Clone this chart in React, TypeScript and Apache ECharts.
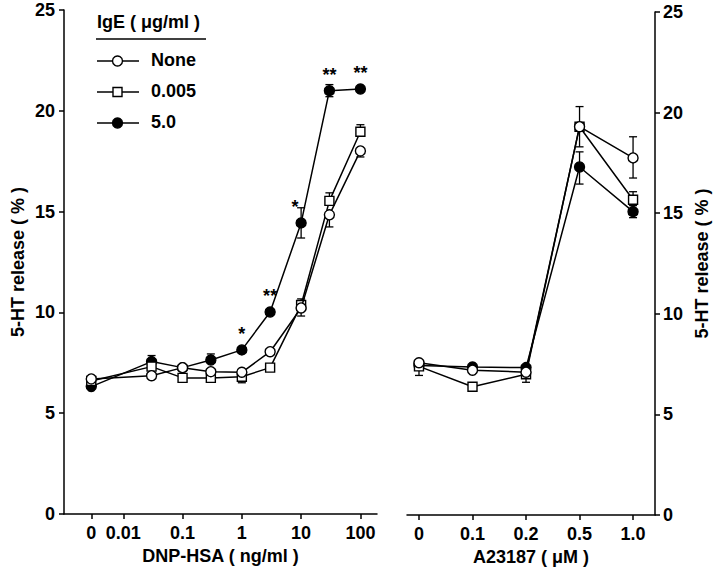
import React, { useEffect, useRef } from "react";
import * as echarts from "echarts";

// ---------- data ----------
const ZERO_POS = -2.54; // log10 position used for the "0" dose
const dnpTickLabels = ["0", "0.01", "0.1", "1", "10", "100"];
const dnpTickValues = [ZERO_POS, -2, -1, 0, 1, 2];
const dnpConc = [0, 0.03, 0.1, 0.3, 1, 3, 10, 30, 100];
const dnpNone = [6.7, 6.86, 7.26, 7.06, 7.03, 8.05, 10.22, 14.84, 18.01];
const dnpLow = [6.6, 7.31, 6.75, 6.75, 6.81, 7.26, 10.37, 15.53, 18.96];
const dnpHigh = [6.32, 7.56, 7.26, 7.64, 8.14, 10.02, 14.44, 21.0, 21.08];
// [down, up]
const dnpNoneErr = [[0, 0], [0, 0], [0, 0], [0, 0], [0, 0], [0, 0], [0.4, 0], [0.6, 0], [0.3, 0]];
const dnpLowErr = [[0, 0], [0, 0], [0, 0], [0, 0], [0.3, 0], [0, 0], [0, 0.3], [0, 0.4], [0, 0.35]];
const dnpHighErr = [[0, 0], [0, 0.3], [0, 0], [0, 0.3], [0, 0], [0, 0], [0.75, 0.75], [0.3, 0.3], [0, 0]];
const dnpSig = ["", "", "", "", "*", "**", "*", "**", "**"];

const a23Labels = ["0", "0.1", "0.2", "0.5", "1.0"];
const a23None = [7.57, 7.2, 7.1, 19.3, 17.75];
const a23Low = [7.39, 6.38, 7.0, 19.3, 15.67];
const a23High = [7.44, 7.36, 7.33, 17.3, 15.08];
const a23NoneErr = [[0, 0], [0, 0], [0, 0], [0, 0], [1.0, 1.05]];
const a23LowErr = [[0.45, 0], [0, 0], [0.4, 0], [1.0, 1.0], [0, 0.4]];
const a23HighErr = [[0, 0], [0, 0], [0, 0], [0.85, 0.75], [0.3, 0.3]];

const FONT = "'Liberation Sans', Arial, Helvetica, sans-serif";

function logPos(c: number) {
  return c === 0 ? ZERO_POS : Math.log10(c);
}

export default function App() {
  const ref = useRef<HTMLDivElement>(null);
  useEffect(() => {
    if (!ref.current) return;
    const chart = echarts.init(ref.current, null, { renderer: "svg" });

    const dnpX = dnpConc.map(logPos);
    const a23X = a23Labels.map((_, i) => i);

    const pts = (xs: number[], ys: number[]) => ys.map((y, i) => [xs[i], y]);
    const errData = (xs: number[], ys: number[], err: number[][]) =>
      ys
        .map((y, i) => [xs[i], y, err[i][0], err[i][1]])
        .filter((d) => d[2] > 0 || d[3] > 0);

    const errSeries = (idx: number, data: number[][]) => ({
      type: "custom",
      xAxisIndex: idx,
      yAxisIndex: idx,
      z: 1,
      silent: true,
      data,
      encode: { x: 0, y: 1 },
      renderItem: (params: any, api: any) => {
        const x = api.value(0);
        const y = api.value(1);
        const d = api.value(2);
        const u = api.value(3);
        const c = api.coord([x, y]);
        const children: any[] = [];
        const cap = 4;
        const st = { stroke: "#000", lineWidth: 1.3 };
        if (d > 0) {
          const p = api.coord([x, y - d]);
          children.push({ type: "line", shape: { x1: c[0], y1: c[1], x2: p[0], y2: p[1] }, style: st });
          children.push({ type: "line", shape: { x1: p[0] - cap, y1: p[1], x2: p[0] + cap, y2: p[1] }, style: st });
        }
        if (u > 0) {
          const p = api.coord([x, y + u]);
          children.push({ type: "line", shape: { x1: c[0], y1: c[1], x2: p[0], y2: p[1] }, style: st });
          children.push({ type: "line", shape: { x1: p[0] - cap, y1: p[1], x2: p[0] + cap, y2: p[1] }, style: st });
        }
        return { type: "group", children };
      },
    });

    const lineSeries = (name: string, idx: number, data: any[], kind: string, z: number, extra: any = {}) => ({
      name,
      type: "line",
      xAxisIndex: idx,
      yAxisIndex: idx,
      data,
      z,
      symbol: kind === "square" ? "rect" : "circle",
      symbolSize: kind === "square" ? 9 : 10,
      showAllSymbol: true,
      lineStyle: { color: "#000", width: 1.5 },
      itemStyle: {
        color: kind === "filled" ? "#000" : "#fff",
        borderColor: "#000",
        borderWidth: 1.4,
      },
      emphasis: { disabled: true },
      ...extra,
    });

    const highLeftData = pts(dnpX, dnpHigh).map((v, i) =>
      i === 6
        ? { value: v, label: { position: "left", offset: [4, -16] } }
        : { value: v }
    );

    const yAxisBase = {
      type: "value",
      min: 0,
      max: 25,
      interval: 5,
      axisLine: { show: true, onZero: false, lineStyle: { color: "#000", width: 1.5 } },
      axisTick: { show: true, length: 5, lineStyle: { color: "#000", width: 1.5 } },
      splitLine: { show: false },
      axisLabel: { color: "#000", fontSize: 18, fontWeight: "bold", fontFamily: FONT, margin: 9 },
      name: "5-HT release ( % )",
      nameLocation: "middle",
      nameRotate: 90,
      nameTextStyle: { color: "#000", fontSize: 18, fontWeight: "bold", fontFamily: FONT },
    };

    const xAxisBase = {
      type: "value",
      axisLine: { show: true, onZero: false, lineStyle: { color: "#000", width: 1.5 } },
      axisTick: { show: true, length: 5, lineStyle: { color: "#000", width: 1.5 } },
      splitLine: { show: false },
      nameLocation: "middle",
      nameGap: 32,
      nameTextStyle: { color: "#000", fontSize: 18, fontWeight: "bold", fontFamily: FONT },
    };

    const legendItems = [
      { name: "None", kind: "circle" },
      { name: "0.005", kind: "square" },
      { name: "5.0", kind: "filled" },
    ];
    const legendGraphics: any[] = [
      {
        type: "text",
        left: 97,
        top: 13,
        style: { text: "IgE ( μg/ml )", fill: "#000", font: `bold 18px ${FONT}` },
      },
      { type: "line", shape: { x1: 96, y1: 39, x2: 206, y2: 39 }, style: { stroke: "#000", lineWidth: 1.5 } },
    ];
    legendItems.forEach((it, i) => {
      const y = 61 + i * 31;
      legendGraphics.push({ type: "line", shape: { x1: 97, y1: y, x2: 139, y2: y }, style: { stroke: "#000", lineWidth: 1.5 } });
      if (it.kind === "square") {
        legendGraphics.push({ type: "rect", shape: { x: 113, y: y - 4.5, width: 9, height: 9 }, style: { fill: "#fff", stroke: "#000", lineWidth: 1.4 } });
      } else {
        legendGraphics.push({ type: "circle", shape: { cx: 117.5, cy: y, r: 5 }, style: { fill: it.kind === "filled" ? "#000" : "#fff", stroke: "#000", lineWidth: 1.4 } });
      }
      legendGraphics.push({ type: "text", left: 151, top: y - 10, style: { text: it.name, fill: "#000", font: `bold 18px ${FONT}` } });
    });

    chart.setOption({
      animation: false,
      backgroundColor: "#fff",
      grid: [
        { left: 64, top: 10, width: 313, height: 504 },
        { left: 407, top: 12, width: 248, height: 504 },
      ],
      xAxis: [
        {
          ...xAxisBase,
          gridIndex: 0,
          min: -3.0,
          max: 2.28,
          name: "DNP-HSA ( ng/ml )",
          axisTick: { ...xAxisBase.axisTick, customValues: dnpTickValues },
          axisLabel: {
            customValues: dnpTickValues,
            formatter: (v: number) => {
              const i = dnpTickValues.findIndex((t) => Math.abs(t - v) < 1e-6);
              return i >= 0 ? dnpTickLabels[i] : "";
            },
            color: "#000",
            fontSize: 18,
            fontWeight: "bold",
            fontFamily: FONT,
            margin: 10,
          },
        },
        {
          ...xAxisBase,
          gridIndex: 1,
          min: -0.224,
          max: 4.41,
          name: "A23187 ( μM )",
          axisTick: { ...xAxisBase.axisTick, customValues: a23X },
          axisLabel: {
            customValues: a23X,
            formatter: (v: number) => a23Labels[Math.round(v)] ?? "",
            color: "#000",
            fontSize: 18,
            fontWeight: "bold",
            fontFamily: FONT,
            margin: 10,
          },
        },
      ],
      yAxis: [
        { ...yAxisBase, gridIndex: 0, position: "left", nameGap: 37 },
        { ...yAxisBase, gridIndex: 1, position: "right", nameGap: 38, axisLabel: { ...yAxisBase.axisLabel, margin: 8 } },
      ],
      series: [
        errSeries(0, [
          ...errData(dnpX, dnpNone, dnpNoneErr),
          ...errData(dnpX, dnpLow, dnpLowErr),
          ...errData(dnpX, dnpHigh, dnpHighErr),
        ]),
        errSeries(1, [
          ...errData(a23X, a23None, a23NoneErr),
          ...errData(a23X, a23Low, a23LowErr),
          ...errData(a23X, a23High, a23HighErr),
        ]),
        lineSeries("5.0", 0, highLeftData, "filled", 2, {
          label: {
            show: true,
            position: "top",
            distance: 1,
            formatter: (p: any) => dnpSig[p.dataIndex],
            color: "#000",
            fontSize: 18,
            fontWeight: "bold",
            fontFamily: FONT,
          },
        }),
        lineSeries("0.005", 0, pts(dnpX, dnpLow), "square", 3),
        lineSeries("None", 0, pts(dnpX, dnpNone), "circle", 4),
        lineSeries("5.0", 1, pts(a23X, a23High), "filled", 2),
        lineSeries("0.005", 1, pts(a23X, a23Low), "square", 3),
        lineSeries("None", 1, pts(a23X, a23None), "circle", 4),
      ],
      graphic: legendGraphics,
    });
    return () => chart.dispose();
  }, []);
  return (
    <div
      ref={ref}
      style={{ position: "fixed", left: 0, top: 0, width: 720, height: 571, background: "#fff" }}
    />
  );
}
